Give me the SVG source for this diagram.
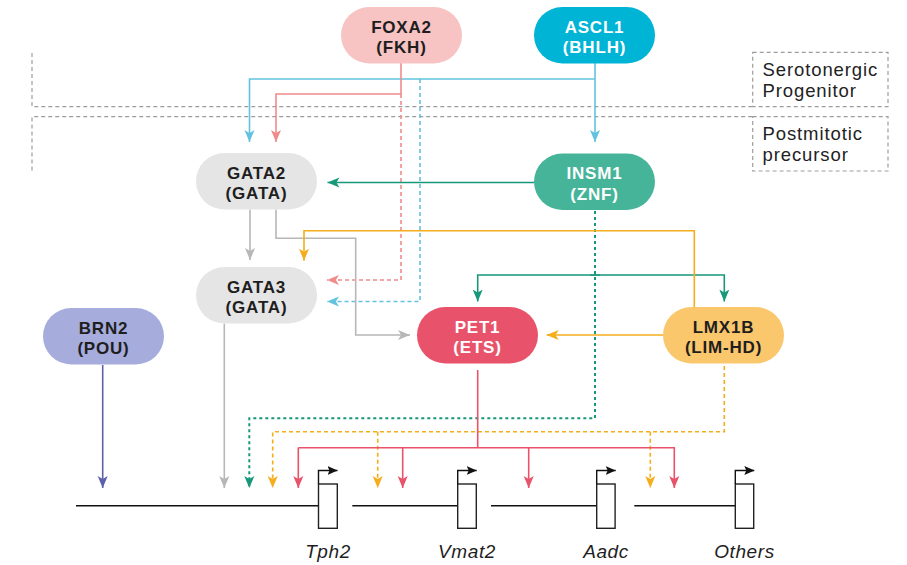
<svg xmlns="http://www.w3.org/2000/svg" width="907" height="565" viewBox="0 0 907 565">
<defs>
<style>
.region{fill:none;stroke:#9d9d9d;stroke-width:1.2;stroke-dasharray:4 3}
.rlabel{font-family:"Liberation Sans",Arial,sans-serif;font-size:18.5px;fill:#222;letter-spacing:0.9px}
.nt{font-family:"Liberation Sans",Arial,sans-serif;font-size:17px;font-weight:bold;letter-spacing:0.8px;text-anchor:middle}
.dk{fill:#1e1e1e}
.wt{fill:#ffffff}
.c{fill:none;stroke-width:1.6}
.blue{stroke:#63c3df}
.pink{stroke:#f08b8b}
.green{stroke:#17987b}
.gray{stroke:#b7b7b7}
.yel{stroke:#f5ad1d}
.red{stroke:#e8536b}
.ind{stroke:#5d61a9}
.dash{stroke-dasharray:4 3}
.dot{stroke-dasharray:3 3;stroke-width:2}
.gene{fill:#fff;stroke:#222;stroke-width:1.4}
.dna{fill:none;stroke:#111;stroke-width:1.4}
.glab{font-family:"Liberation Sans",Arial,sans-serif;font-size:19px;font-style:italic;fill:#1e1e1e;text-anchor:middle;letter-spacing:0.6px}
</style>
<marker id="aBlue" markerUnits="userSpaceOnUse" markerWidth="12" markerHeight="12" viewBox="0 0 10 10" refX="10" refY="5" orient="auto"><path d="M0,0.8 L10,5 L0,9.2 L2.6,5 Z" fill="#63c3df"/></marker>
<marker id="aPink" markerUnits="userSpaceOnUse" markerWidth="12" markerHeight="12" viewBox="0 0 10 10" refX="10" refY="5" orient="auto"><path d="M0,0.8 L10,5 L0,9.2 L2.6,5 Z" fill="#f08b8b"/></marker>
<marker id="aGreen" markerUnits="userSpaceOnUse" markerWidth="12" markerHeight="12" viewBox="0 0 10 10" refX="10" refY="5" orient="auto"><path d="M0,0.8 L10,5 L0,9.2 L2.6,5 Z" fill="#17987b"/></marker>
<marker id="aGray" markerUnits="userSpaceOnUse" markerWidth="12" markerHeight="12" viewBox="0 0 10 10" refX="10" refY="5" orient="auto"><path d="M0,0.8 L10,5 L0,9.2 L2.6,5 Z" fill="#b7b7b7"/></marker>
<marker id="aYel" markerUnits="userSpaceOnUse" markerWidth="12" markerHeight="12" viewBox="0 0 10 10" refX="10" refY="5" orient="auto"><path d="M0,0.8 L10,5 L0,9.2 L2.6,5 Z" fill="#f5ad1d"/></marker>
<marker id="aRed" markerUnits="userSpaceOnUse" markerWidth="12" markerHeight="12" viewBox="0 0 10 10" refX="10" refY="5" orient="auto"><path d="M0,0.8 L10,5 L0,9.2 L2.6,5 Z" fill="#e8536b"/></marker>
<marker id="aInd" markerUnits="userSpaceOnUse" markerWidth="12" markerHeight="12" viewBox="0 0 10 10" refX="10" refY="5" orient="auto"><path d="M0,0.8 L10,5 L0,9.2 L2.6,5 Z" fill="#5d61a9"/></marker>
<marker id="aBlk" markerUnits="userSpaceOnUse" markerWidth="10" markerHeight="10" viewBox="0 0 10 10" refX="10" refY="5" orient="auto"><path d="M0,0.5 L10,5 L0,9.5 L2,5 Z" fill="#111"/></marker>
</defs>
<rect width="907" height="565" fill="#ffffff"/>

<g id="regions">
<path class="region" d="M32,53 V106.7 H752.7"/>
<rect class="region" x="752.7" y="52.3" width="135.3" height="54.4"/>
<path class="region" d="M32,170.5 V116.7 H752.7"/>
<rect class="region" x="752.7" y="116.7" width="135.3" height="54.3"/>
<text class="rlabel" x="762.5" y="76">Serotonergic</text>
<text class="rlabel" x="762.5" y="97">Progenitor</text>
<text class="rlabel" x="762.5" y="139.5">Postmitotic</text>
<text class="rlabel" x="762.5" y="160.5">precursor</text>
</g>

<g id="connectors">
<path class="c blue" d="M595,63 V142" marker-end="url(#aBlue)"/>
<path class="c blue" d="M595,79 H249.5 V142" marker-end="url(#aBlue)"/>
<path class="c blue dash" d="M420,79 V301.5 H327" marker-end="url(#aBlue)"/>
<path class="c pink" d="M401,63 V94 H276 V142" marker-end="url(#aPink)"/>
<path class="c pink dash" d="M401,94 V280 H327" marker-end="url(#aPink)"/>
<path class="c green" d="M534,182.5 H327.5" marker-end="url(#aGreen)"/>
<path class="c green" d="M600,275 H477.7 V301.5" marker-end="url(#aGreen)"/>
<path class="c green" d="M590,275 H724.3 V301.5" marker-end="url(#aGreen)"/>
<path class="c green dot" d="M595,211 V418.3 H249.3 V488" marker-end="url(#aGreen)"/>
<path class="c gray" d="M250,209.5 V260" marker-end="url(#aGray)"/>
<path class="c gray" d="M276,209.5 V238.3 H355.7 V335 H410" marker-end="url(#aGray)"/>
<path class="c gray" d="M224.3,323.5 V488" marker-end="url(#aGray)"/>
<path class="c yel" d="M694.3,307 V230.7 H304 V260.7" marker-end="url(#aYel)"/>
<path class="c yel" d="M663,335 H546.7" marker-end="url(#aYel)"/>
<path class="c yel dash" d="M724.3,366 V431.7 H272.7 V488" marker-end="url(#aYel)"/>
<path class="c yel dash" d="M377.7,431.7 V488" marker-end="url(#aYel)"/>
<path class="c yel dash" d="M650.3,431.7 V488" marker-end="url(#aYel)"/>
<path class="c red" d="M477.7,370 V447.7"/>
<path class="c red" d="M298.3,447.7 H674.3 V488" marker-end="url(#aRed)"/>
<path class="c red" d="M298.3,447.7 V488" marker-end="url(#aRed)"/>
<path class="c red" d="M402.7,447.7 V488" marker-end="url(#aRed)"/>
<path class="c red" d="M528.7,447.7 V488" marker-end="url(#aRed)"/>
<path class="c ind" d="M102.7,365 V488" marker-end="url(#aInd)"/>
</g>

<g id="FOXA2">
<rect x="341" y="7" width="121" height="56.5" rx="28.25" fill="#f7c3c3"/>
<text class="nt dk" x="401.5" y="32.5">FOXA2</text>
<text class="nt dk" x="401.5" y="53">(FKH)</text>
</g>
<g id="ASCL1">
<rect x="534" y="7" width="121" height="56.5" rx="28.25" fill="#00b4d5"/>
<text class="nt wt" x="594.5" y="32.5">ASCL1</text>
<text class="nt wt" x="594.5" y="53">(BHLH)</text>
</g>
<g id="GATA2">
<rect x="196" y="153" width="121" height="56.5" rx="28.25" fill="#e5e5e5"/>
<text class="nt dk" x="256.5" y="178.5">GATA2</text>
<text class="nt dk" x="256.5" y="199">(GATA)</text>
</g>
<g id="INSM1">
<rect x="534" y="153.5" width="121" height="56.5" rx="28.25" fill="#46b499"/>
<text class="nt wt" x="594.5" y="179">INSM1</text>
<text class="nt wt" x="594.5" y="199.5">(ZNF)</text>
</g>
<g id="GATA3">
<rect x="196" y="267" width="121" height="56.5" rx="28.25" fill="#e5e5e5"/>
<text class="nt dk" x="256.5" y="292.5">GATA3</text>
<text class="nt dk" x="256.5" y="313">(GATA)</text>
</g>
<g id="BRN2">
<rect x="43" y="308" width="121" height="56.5" rx="28.25" fill="#a6acdb"/>
<text class="nt dk" x="103.5" y="333.5">BRN2</text>
<text class="nt dk" x="103.5" y="354">(POU)</text>
</g>
<g id="PET1">
<rect x="417" y="307" width="121" height="56.5" rx="28.25" fill="#e8536b"/>
<text class="nt wt" x="477.5" y="332.5">PET1</text>
<text class="nt wt" x="477.5" y="353">(ETS)</text>
</g>
<g id="LMX1B">
<rect x="663" y="307" width="121" height="56.5" rx="28.25" fill="#fbc76c"/>
<text class="nt dk" x="723.5" y="332.5">LMX1B</text>
<text class="nt dk" x="723.5" y="353">(LIM-HD)</text>
</g>

<g id="genes">
<path class="dna" d="M76,505.7 H318.5 M352.3,505.7 H457.7 M491,505.7 H596.7 M634.3,505.7 H735.3"/>
<g id="Tph2">
<rect class="gene" x="318.5" y="484" width="18.8" height="44.3"/>
<path class="dna" d="M318.5,484 V470.5 H337.5" marker-end="url(#aBlk)"/>
<text class="glab" x="328" y="558">Tph2</text>
</g>
<g id="Vmat2">
<rect class="gene" x="457.7" y="484" width="18.6" height="44.3"/>
<path class="dna" d="M457.7,484 V470.5 H476.7" marker-end="url(#aBlk)"/>
<text class="glab" x="467" y="558">Vmat2</text>
</g>
<g id="Aadc">
<rect class="gene" x="596.7" y="484" width="18.4" height="44.3"/>
<path class="dna" d="M596.7,484 V470.5 H615.7" marker-end="url(#aBlk)"/>
<text class="glab" x="606" y="558">Aadc</text>
</g>
<g id="Others">
<rect class="gene" x="735.3" y="484" width="18.4" height="44.3"/>
<path class="dna" d="M735.3,484 V470.5 H754.3" marker-end="url(#aBlk)"/>
<text class="glab" x="744.5" y="558">Others</text>
</g>
</g>
</svg>
